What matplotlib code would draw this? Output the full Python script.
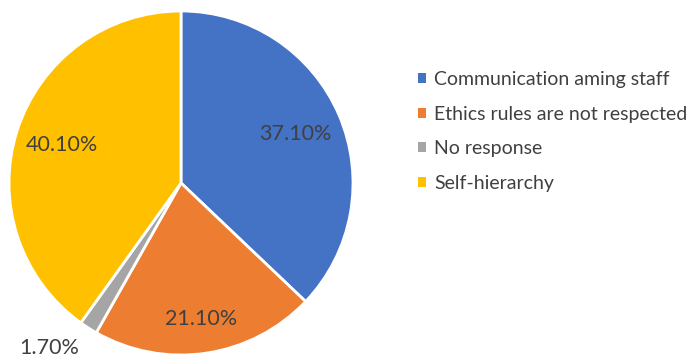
import numpy as np
import matplotlib.pyplot as plt
from matplotlib.patches import Patch

labels = ["Communication aming staff", "Ethics rules are not respected",
          "No response", "Self-hierarchy"]
values = [37.1, 21.1, 1.7, 40.1]
colors = ["#4472C4", "#ED7D31", "#A5A5A5", "#FFC000"]
# radial distance of each percentage label (fraction of radius)
label_dist = [0.72, 0.80, 1.23, 0.725]
label_shift = [0, 0, -6, 0]  # degrees

plt.rcParams['font.family'] = ['Lato', 'DejaVu Sans']

fig = plt.figure(figsize=(6.91, 3.58), dpi=100)
ax = fig.add_axes([9 / 691, 3 / 358, 344 / 691, 344 / 358])

wedges, _ = ax.pie(values, colors=colors, startangle=90, counterclock=False,
                   radius=1.0, wedgeprops=dict(edgecolor="white", linewidth=2))

for w, v, d, s in zip(wedges, values, label_dist, label_shift):
    mid = np.deg2rad((w.theta1 + w.theta2) / 2 + s)
    ax.text(d * np.cos(mid), d * np.sin(mid), f"{v:.2f}%",
            ha="center", va="center", fontsize=15.5, color="#404040",
            clip_on=False)

ax.set_xlim(-1, 1)
ax.set_ylim(-1, 1)
ax.set_aspect("equal")

handles = [Patch(facecolor=c, edgecolor="none") for c in colors]
fig.legend(handles, labels, loc="upper left",
           bbox_to_anchor=(418 / 691, 1 - 71 / 358), frameon=False,
           borderpad=0, borderaxespad=0,
           fontsize=14, handlelength=0.42, handleheight=0.42,
           handletextpad=0.42, labelspacing=0.91, labelcolor="#404040")

fig.savefig("out.png", dpi=100)
